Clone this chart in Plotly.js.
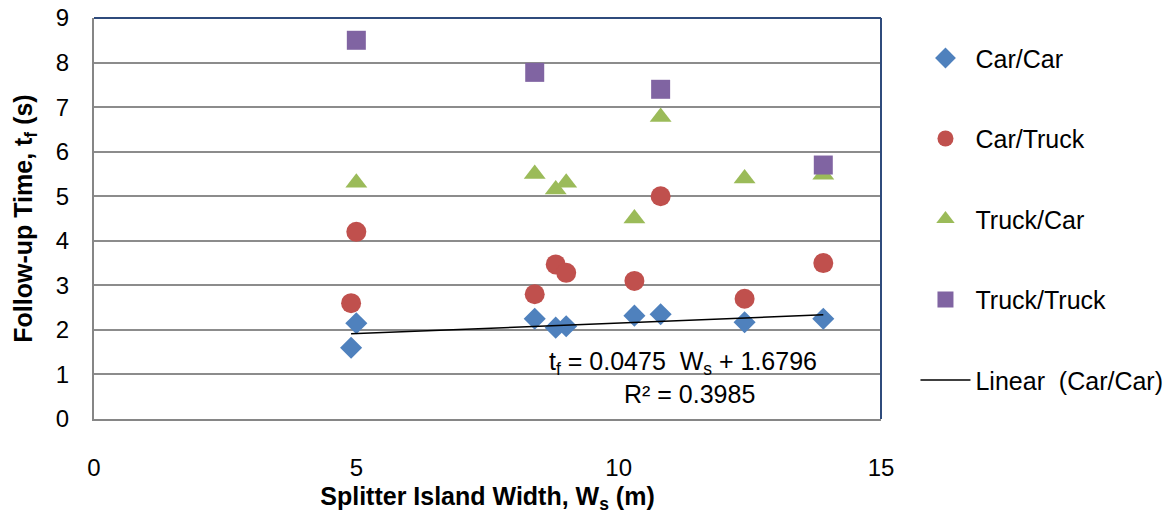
<!DOCTYPE html>
<html>
<head>
<meta charset="utf-8">
<script src="https://cdn.plot.ly/plotly-3.0.1.min.js"></script>
<style>html,body{margin:0;padding:0;background:#fff;}#chart{width:1166px;height:514px;}</style>
</head>
<body>
<div id="chart"></div>
<script>
// Data
const carCarX = [4.9, 5.0, 8.4, 8.8, 9.0, 10.3, 10.8, 12.4, 13.9];
const carCarY = [1.6, 2.15, 2.25, 2.05, 2.08, 2.32, 2.35, 2.17, 2.25];

const carTruckX = [4.9, 5.0, 8.4, 8.8, 9.0, 10.3, 10.8, 12.4, 13.9];
const carTruckY = [2.6, 4.2, 2.8, 3.47, 3.28, 3.1, 5.0, 2.7, 3.5];

const truckCarX = [5.0, 8.4, 8.8, 9.0, 10.3, 10.8, 12.4, 13.9];
const truckCarY = [5.3, 5.5, 5.15, 5.3, 4.5, 6.78, 5.4, 5.48];

const truckTruckX = [5.0, 8.4, 10.8, 13.9];
const truckTruckY = [8.5, 7.78, 7.4, 5.7];

// Trendline equation as printed on the chart
const trendSlope = 0.0475;
const trendIntercept = 1.6796;
const trendR2 = 0.3985;
const trendX = [Math.min(...carCarX), Math.max(...carCarX)];
const trendY = trendX.map(x => trendSlope * x + trendIntercept);

const xTicks = [0, 5, 10, 15];
const yTicks = [0, 1, 2, 3, 4, 5, 6, 7, 8, 9];

const FONT = 'Liberation Sans, Arial, sans-serif';

const traces = [
  {x: carCarX, y: carCarY, mode: 'markers', type: 'scatter', name: 'Car/Car', legendgroup: 'a',
   marker: {symbol: 'diamond', size: 17, color: '#4F81BD'}},
  {x: carTruckX, y: carTruckY, mode: 'markers', type: 'scatter', name: 'Car/Truck', legendgroup: 'b',
   marker: {symbol: 'circle', size: 20, color: '#C0504D'}},
  {x: truckCarX, y: truckCarY, mode: 'markers', type: 'scatter', name: 'Truck/Car', legendgroup: 'c',
   marker: {symbol: 'triangle-up', size: 19, color: '#9BBB59'}},
  {x: truckTruckX, y: truckTruckY, mode: 'markers', type: 'scatter', name: 'Truck/Truck', legendgroup: 'd',
   marker: {symbol: 'square', size: 19, color: '#8064A2'}},
  {x: trendX, y: trendY, mode: 'lines', type: 'scatter', name: 'Linear\u00A0 (Car/Car)', legendgroup: 'e',
   line: {color: '#000000', width: 1.5}}
];

const layout = {
  width: 1166, height: 514,
  margin: {l: 94, r: 285, t: 18, b: 95, autoexpand: false},
  paper_bgcolor: '#ffffff', plot_bgcolor: '#ffffff',
  font: {family: FONT, size: 24, color: '#000'},
  showlegend: true,
  legend: {x: 1.0438, xanchor: 'left', y: 0.957, yanchor: 'top', traceorder: 'grouped',
           itemwidth: 50, tracegroupgap: 45,
           font: {family: FONT, size: 25, color: '#000'}, bgcolor: 'rgba(0,0,0,0)'},
  xaxis: {
    range: [0, 15], tickvals: xTicks, ticktext: xTicks.map(String),
    showgrid: false, zeroline: false, showline: true, linecolor: '#868686', linewidth: 2,
    ticks: '', ticklabelstandoff: 26,
    tickfont: {family: FONT, size: 24, color: '#000'},
    title: {text: 'Splitter Island Width, W<sub>s</sub> (m)', standoff: 8,
            font: {family: FONT, size: 25, color: '#000', weight: 'bold'}}
  },
  yaxis: {
    range: [0, 9], tickvals: yTicks, ticktext: yTicks.map(String),
    showgrid: true, gridcolor: '#8C8C8C', gridwidth: 1.5,
    zeroline: false, showline: true, linecolor: '#868686', linewidth: 2,
    ticks: '', ticklabelstandoff: 18,
    tickfont: {family: FONT, size: 24, color: '#000'},
    title: {text: 'Follow-up Time, t<sub>f</sub> (s)', standoff: 16,
            font: {family: FONT, size: 25, color: '#000', weight: 'bold'}}
  },
  shapes: [
    {type: 'line', xref: 'paper', yref: 'paper', x0: 0, x1: 1, y0: 1, y1: 1, line: {color: '#2F4B7C', width: 2}},
    {type: 'line', xref: 'paper', yref: 'paper', x0: 1, x1: 1, y0: 0, y1: 1, line: {color: '#2F4B7C', width: 2}}
  ],
  annotations: [
    {xref: 'x', yref: 'y', x: 11.22, y: 1.26, showarrow: false,
     text: 't<sub>f</sub> = 0.0475\u00A0\u00A0W<sub>s</sub> + 1.6796', font: {family: FONT, size: 25, color: '#000'}},
    {xref: 'x', yref: 'y', x: 11.35, y: 0.56, showarrow: false,
     text: 'R² = ' + trendR2.toFixed(4), font: {family: FONT, size: 25, color: '#000'}}
  ]
};

Plotly.newPlot('chart', traces, layout, {displayModeBar: false, responsive: false});
</script>
</body>
</html>
